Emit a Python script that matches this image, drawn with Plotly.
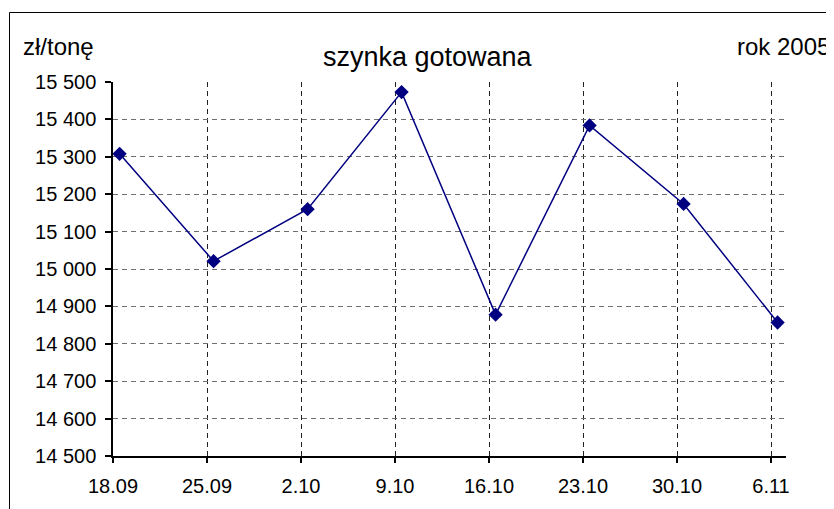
import plotly.graph_objects as go

categories = ["18.09", "25.09", "2.10", "9.10", "16.10", "23.10", "30.10", "6.11"]
prices = [15308, 15021, 15160, 15473, 14878, 15384, 15174, 14857]
y_ticks = [14500, 14600, 14700, 14800, 14900, 15000, 15100, 15200, 15300, 15400, 15500]

OFF = 8  # page body margin in the browser
W, H = 834 - OFF, 509 - OFF
# plot area in reference-page pixels
L, R, T, B = 113, 786, 82, 456
POINT_SHIFT = 0.07  # markers sit slightly right of the category gridlines


def px_x(p):
    return (p - L) / (R - L)


def px_y(p):
    return (B - p) / (B - T)


x_idx = list(range(len(categories)))
x_pts = [i + POINT_SHIFT for i in x_idx]

fig = go.Figure()
fig.add_trace(go.Scatter(
    x=x_pts, y=prices, mode="lines+markers",
    line=dict(color="#000080", width=1.5),
    marker=dict(symbol="diamond", size=11, color="#000080"),
    showlegend=False, hoverinfo="skip",
))

FONT = "Liberation Sans, Arial, sans-serif"

fig.update_layout(
    width=W, height=H,
    margin=dict(l=L - OFF, r=834 - R, t=T - OFF, b=509 - B),
    paper_bgcolor="white", plot_bgcolor="white",
    font=dict(family=FONT, color="black"),
    separators=", ",
    xaxis=dict(
        range=[0, (R - L) / 94.0],
        tickvals=x_idx, ticktext=categories,
        showgrid=True, gridcolor="#222222", griddash="5px,4px", gridwidth=1,
        showline=True, linecolor="black", linewidth=1.5,
        ticks="outside", ticklen=5, tickcolor="black", tickwidth=1.5,
        tickfont=dict(size=20, family=FONT, color="black"),
        ticklabelstandoff=6,
        zeroline=False, fixedrange=True,
    ),
    yaxis=dict(
        range=[14500, 15500],
        tickvals=y_ticks, tickformat=",d",
        showgrid=True, gridcolor="#6f6f6f", griddash="5px,4px", gridwidth=1,
        showline=True, linecolor="black", linewidth=1.5,
        ticks="outside", ticklen=6, tickcolor="black", tickwidth=1.5,
        tickfont=dict(size=20, family=FONT, color="black"),
        ticklabelstandoff=5,
        zeroline=False, fixedrange=True,
    ),
    shapes=[dict(
        type="rect", xref="paper", yref="paper",
        x0=px_x(9.5), x1=px_x(832.5), y0=px_y(530), y1=px_y(12.5),
        line=dict(color="black", width=1), fillcolor="rgba(0,0,0,0)", layer="below",
    )],
    annotations=[
        dict(text="szynka gotowana", xref="paper", yref="paper",
             x=px_x(428), y=px_y(57), xanchor="center", yanchor="middle",
             showarrow=False, font=dict(size=27, family=FONT, color="black")),
        dict(text="zł/tonę", xref="paper", yref="paper",
             x=px_x(21), y=px_y(46), xanchor="left", yanchor="middle",
             showarrow=False, font=dict(size=24, family=FONT, color="black")),
        dict(text="rok 2005", xref="paper", yref="paper",
             x=px_x(832), y=px_y(46), xanchor="right", yanchor="middle",
             showarrow=False, font=dict(size=24, family=FONT, color="black")),
    ],
)

fig.write_html("out.html")
